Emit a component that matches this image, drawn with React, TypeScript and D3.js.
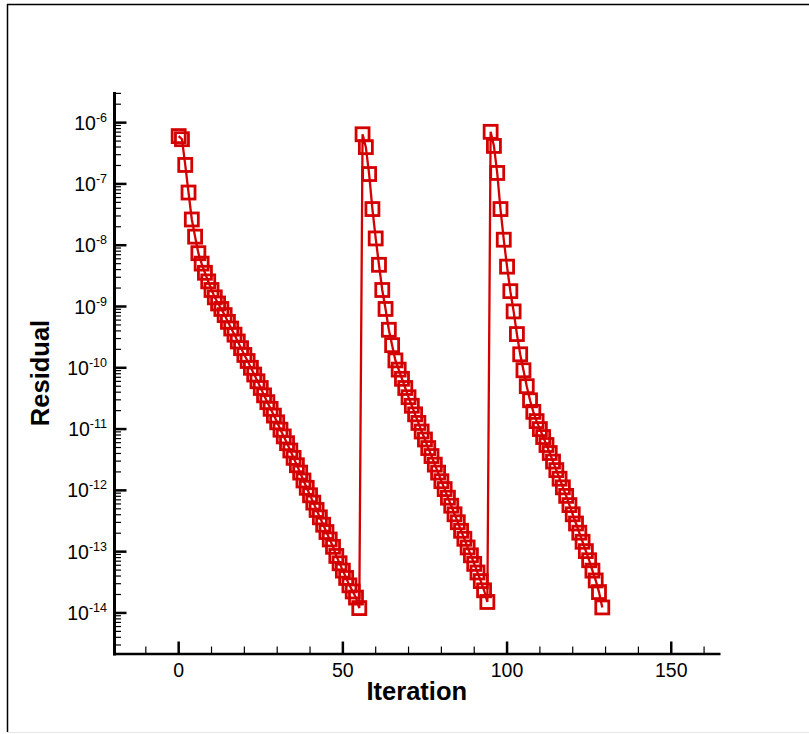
import React from "react";
import * as d3 from "d3";

// Residual history of three consecutive solver runs (one value per iteration)
const run1Start = 0;
const run1 = [
  6.03e-7, 5.37e-7, 2.04e-7, 7.24e-8, 2.63e-8, 1.38e-8, 7.41e-9, 5.01e-9, 3.55e-9, 2.57e-9,
  1.86e-9, 1.41e-9, 1.12e-9, 9.12e-10, 7.24e-10, 5.62e-10, 4.37e-10, 3.47e-10, 2.69e-10, 2.09e-10,
  1.62e-10, 1.29e-10, 1.0e-10, 7.76e-11, 6.03e-11, 4.68e-11, 3.55e-11, 2.75e-11, 2.14e-11, 1.66e-11,
  1.29e-11, 9.77e-12, 7.59e-12, 5.89e-12, 4.47e-12, 3.39e-12, 2.57e-12, 1.95e-12, 1.45e-12, 1.1e-12,
  8.32e-13, 6.31e-13, 4.79e-13, 3.63e-13, 2.75e-13, 2.09e-13, 1.58e-13, 1.2e-13, 8.51e-14, 6.46e-14,
  4.9e-14, 3.72e-14, 2.82e-14, 2.24e-14, 1.78e-14, 1.2e-14,
];

const run2Start = 56;
const run2 = [
  6.46e-7, 3.98e-7, 1.45e-7, 3.89e-8, 1.29e-8, 4.79e-9, 1.86e-9, 9.12e-10, 4.17e-10, 2.34e-10,
  1.32e-10, 9.33e-11, 6.61e-11, 4.68e-11, 3.31e-11, 2.4e-11, 1.74e-11, 1.26e-11, 9.12e-12, 6.76e-12,
  4.9e-12, 3.63e-12, 2.63e-12, 1.95e-12, 1.41e-12, 1.05e-12, 7.59e-13, 5.62e-13, 4.07e-13, 3.02e-13,
  2.19e-13, 1.62e-13, 1.17e-13, 8.71e-14, 6.31e-14, 4.57e-14, 3.31e-14, 2.34e-14, 1.51e-14,
];

const run3Start = 95;
const run3 = [
  7.08e-7, 4.17e-7, 1.51e-7, 3.89e-8, 1.23e-8, 4.47e-9, 1.78e-9, 8.32e-10, 3.55e-10, 1.66e-10,
  9.12e-11, 5.01e-11, 2.95e-11, 1.91e-11, 1.35e-11, 1.0e-11, 7.41e-12, 5.5e-12, 4.07e-12, 2.95e-12,
  2.14e-12, 1.55e-12, 1.12e-12, 8.13e-13, 5.75e-13, 4.07e-13, 2.88e-13, 2.04e-13, 1.45e-13, 1.02e-13,
  7.24e-14, 4.9e-14, 3.39e-14, 2.19e-14, 1.23e-14,
];

const xMajorTicks = [0, 50, 100, 150];
const yMajorExponents = [-14, -13, -12, -11, -10, -9, -8, -7, -6];

const xTitle = "Iteration";
const yTitle = "Residual";

const W = 809;
const H = 734;
const RED = "#d40000";
const FONT = "'Liberation Sans', Arial, Helvetica, sans-serif";

type Pt = { it: number; r: number };

const points: Pt[] = [
  ...run1.map((r, i) => ({ it: run1Start + i, r })),
  ...run2.map((r, i) => ({ it: run2Start + i, r })),
  ...run3.map((r, i) => ({ it: run3Start + i, r })),
];

export default function App() {
  const left = 113;
  const right = 720.5;
  const top = 92;
  const bottom = 654;
  const axisX = 114.5;

  const x = d3.scaleLinear().domain([-20, 165]).range([left, right]);
  const y = d3
    .scaleLog()
    .domain([Math.pow(10, -14.67), Math.pow(10, -5.5)])
    .range([bottom, top]);

  const line = d3
    .line<Pt>()
    .x((d) => x(d.it))
    .y((d) => y(d.r));

  const xMinor = d3.range(-10, 166, 10).filter((v) => !xMajorTicks.includes(v));
  const yMinor = y
    .ticks()
    .filter((v) => {
      const m = Math.round(v / Math.pow(10, Math.floor(Math.log10(v) + 1e-9)));
      return m !== 1;
    })
    .filter((v) => y(v) >= top - 0.5 && y(v) <= bottom);

  const ms = 13;

  return (
    <svg
      width={W}
      height={H}
      style={{ position: "absolute", left: 0, top: 0, background: "#fff" }}
      fontFamily={FONT}
    >
      {/* frame */}
      <line x1={7} y1={4.5} x2={W} y2={4.5} stroke="#000" strokeWidth={1.5} />
      <line x1={7.5} y1={4} x2={7.5} y2={732} stroke="#000" strokeWidth={1.5} />
      <line x1={7} y1={732.5} x2={W} y2={732.5} stroke="#e6e6e6" strokeWidth={1} />

      {/* data */}
      <path d={line(points) ?? ""} fill="none" stroke={RED} strokeWidth={2.3} />
      {points.map((p, i) => (
        <rect
          key={i}
          x={x(p.it) - ms / 2}
          y={y(p.r) - ms / 2}
          width={ms}
          height={ms}
          fill="none"
          stroke={RED}
          strokeWidth={2.8}
        />
      ))}

      {/* y axis */}
      <line x1={axisX} y1={top} x2={axisX} y2={bottom + 1.5} stroke="#000" strokeWidth={3} />
      {yMinor.map((v, i) => (
        <line key={i} x1={axisX} x2={axisX + 6.5} y1={y(v)} y2={y(v)} stroke="#000" strokeWidth={1.2} />
      ))}
      {yMajorExponents.map((e) => {
        const yy = y(Math.pow(10, e));
        return (
          <g key={e}>
            <line x1={axisX} x2={axisX + 12} y1={yy} y2={yy} stroke="#000" strokeWidth={2.5} />
            <text x={107} y={yy + 7} textAnchor="end" fontSize={19.5} fill="#000">
              <tspan>10</tspan>
              <tspan fontSize={12.5} dy={-8}>{`-${-e}`}</tspan>
            </text>
          </g>
        );
      })}

      {/* x axis */}
      <line x1={left} y1={bottom} x2={right} y2={bottom} stroke="#000" strokeWidth={2.6} />
      {xMinor.map((v) => (
        <line key={v} x1={x(v)} x2={x(v)} y1={bottom} y2={bottom - 7.5} stroke="#000" strokeWidth={1.2} />
      ))}
      {xMajorTicks.map((v) => (
        <g key={v}>
          <line x1={x(v)} x2={x(v)} y1={bottom} y2={bottom - 12.5} stroke="#000" strokeWidth={2.5} />
          <text x={x(v)} y={677} textAnchor="middle" fontSize={19.5} fill="#000">
            {v}
          </text>
        </g>
      ))}

      {/* titles */}
      <text x={(left + right) / 2} y={700} textAnchor="middle" fontSize={25.5} fontWeight="bold">
        {xTitle}
      </text>
      <text
        transform={`translate(48.5, ${(top + bottom) / 2}) rotate(-90)`}
        textAnchor="middle"
        fontSize={25.5}
        fontWeight="bold"
      >
        {yTitle}
      </text>
    </svg>
  );
}
